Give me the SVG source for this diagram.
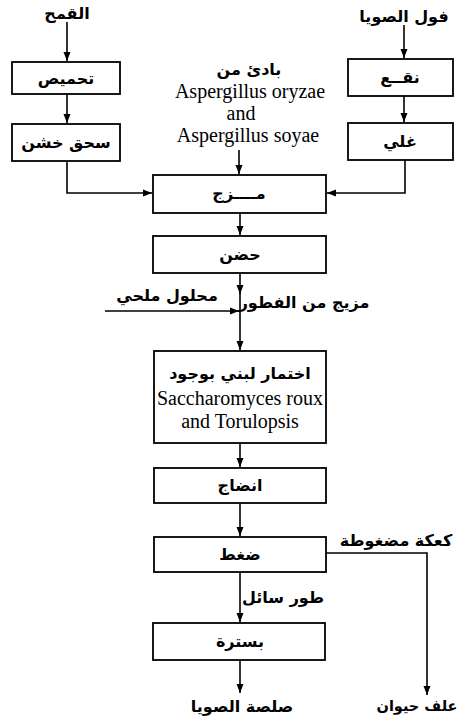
<svg xmlns="http://www.w3.org/2000/svg" width="460" height="719" viewBox="0 0 460 719">
  <style>
    .box { fill: #fff; stroke: #000; stroke-width: 1.8; }
    .wire { fill: none; stroke: #000; stroke-width: 1.6; }
    .ar { font-family: "DejaVu Sans", sans-serif; font-weight: bold; font-size: 16px; fill: #000; text-anchor: middle; }
    .lat { font-family: "Liberation Serif", "Times New Roman", serif; font-size: 20px; fill: #000; text-anchor: middle; }
  </style>
  <defs>
    <marker id="arrow" markerUnits="userSpaceOnUse" markerWidth="10" markerHeight="8" refX="9" refY="4" orient="auto">
      <path d="M0,0.5 L9,4 L0,7.5 Z" fill="#000"/>
    </marker>
  </defs>

  <rect width="460" height="719" fill="#fff"/>

  <!-- connectors -->
  <g id="connectors">
    <path class="wire" d="M67,22 V61" marker-end="url(#arrow)"/>
    <path class="wire" d="M67,94 V123" marker-end="url(#arrow)"/>
    <path class="wire" d="M67,161 V193 H152" marker-end="url(#arrow)"/>
    <path class="wire" d="M404,25 V58" marker-end="url(#arrow)"/>
    <path class="wire" d="M404,96 V122" marker-end="url(#arrow)"/>
    <path class="wire" d="M405,160 V193 H327" marker-end="url(#arrow)"/>
    <path class="wire" d="M239,150 V174" marker-end="url(#arrow)"/>
    <path class="wire" d="M240,213 V235" marker-end="url(#arrow)"/>
    <path class="wire" d="M240,273 V294" marker-end="url(#arrow)"/>
    <path class="wire" d="M240,293 V350" marker-end="url(#arrow)"/>
    <path class="wire" d="M105,311 H239" marker-end="url(#arrow)"/>
    <path class="wire" d="M240,443 V467" marker-end="url(#arrow)"/>
    <path class="wire" d="M240,503 V536" marker-end="url(#arrow)"/>
    <path class="wire" d="M326,553 H427 V695" marker-end="url(#arrow)"/>
    <path class="wire" d="M240,572 V622" marker-end="url(#arrow)"/>
    <path class="wire" d="M240,660 V693" marker-end="url(#arrow)"/>
  </g>

  <!-- inputs and free labels -->
  <g id="wheat"><text class="ar" x="67" y="19">القمح</text></g>
  <g id="soybean"><text class="ar" x="404" y="22">فول الصويا</text></g>
  <g id="starter">
    <text class="ar" x="249" y="75">بادئ من</text>
    <text class="lat" x="250" y="98">Aspergillus oryzae</text>
    <text class="lat" x="241" y="120">and</text>
    <text class="lat" x="248" y="142">Aspergillus soyae</text>
  </g>
  <g id="brine"><text class="ar" x="167" y="301">محلول ملحي</text></g>
  <g id="koji-label"><text class="ar" x="304" y="308">مزيج من الفطور</text></g>
  <g id="cake-label"><text class="ar" x="396" y="546">كعكة مضغوطة</text></g>
  <g id="liquid-label"><text class="ar" x="283" y="603">طور سائل</text></g>
  <g id="soy-sauce"><text class="ar" x="242" y="712">صلصة الصويا</text></g>
  <g id="animal-feed"><text class="ar" x="417" y="711" style="font-size:14.5px">علف حيوان</text></g>

  <!-- process steps -->
  <g id="roasting">
    <rect class="box" x="12" y="62" width="108" height="32"/>
    <text class="ar" x="66" y="84">تحميص</text>
  </g>
  <g id="crushing">
    <rect class="box" x="12" y="124" width="108" height="37"/>
    <text class="ar" x="66" y="148">سحق خشن</text>
  </g>
  <g id="soaking">
    <rect class="box" x="348" y="59" width="105" height="37"/>
    <text class="ar" x="400" y="83">نقــع</text>
  </g>
  <g id="boiling">
    <rect class="box" x="348" y="123" width="105" height="37"/>
    <text class="ar" x="400" y="147">غلي</text>
  </g>
  <g id="mixing">
    <rect class="box" x="153" y="175" width="173" height="38"/>
    <text class="ar" x="239" y="199">مــــزج</text>
  </g>
  <g id="incubation">
    <rect class="box" x="153" y="236" width="173" height="37"/>
    <text class="ar" x="240" y="260">حضن</text>
  </g>
  <g id="fermentation">
    <rect class="box" x="154" y="351" width="172" height="92"/>
    <text class="ar" x="240" y="379">اختمار لبني بوجود</text>
    <text class="lat" x="240" y="405">Saccharomyces roux</text>
    <text class="lat" x="240" y="428">and Torulopsis</text>
  </g>
  <g id="ripening">
    <rect class="box" x="154" y="468" width="172" height="35"/>
    <text class="ar" x="240" y="491">انضاج</text>
  </g>
  <g id="pressing">
    <rect class="box" x="154" y="537" width="172" height="35"/>
    <text class="ar" x="240" y="560">ضغط</text>
  </g>
  <g id="pasteurization">
    <rect class="box" x="153" y="623" width="172" height="37"/>
    <text class="ar" x="240" y="647">بسترة</text>
  </g>
</svg>
